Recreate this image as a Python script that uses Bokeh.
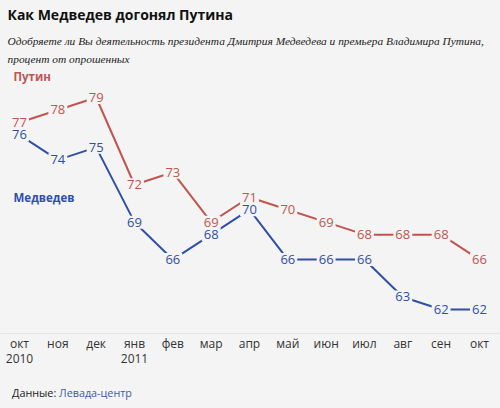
from bokeh.plotting import figure
from bokeh.layouts import column
from bokeh.models import ColumnDataSource, Range1d, FixedTicker, Label, Div, GlobalInlineStyleSheet
from bokeh.core.properties import value
from bokeh.embed import file_html
from bokeh.resources import INLINE

months = ["окт", "ноя", "дек", "янв", "фев", "мар", "апр", "май", "июн", "июл", "авг", "сен", "окт"]
years = {0: "2010", 3: "2011"}
putin = [77, 78, 79, 72, 73, 69, 71, 70, 69, 68, 68, 68, 66]
medvedev = [76, 74, 75, 69, 66, 68, 70, 66, 66, 66, 63, 62, 62]

BG = "#f4f4f4"
RED = "#c0554f"
BLUE = "#2f4fa8"

idx = list(range(len(months)))
src = ColumnDataSource(dict(
    x=idx,
    putin=putin,
    medvedev=medvedev,
    putin_txt=[str(v) for v in putin],
    medvedev_txt=[str(v) for v in medvedev],
))

W, H = 500, 380
fig = figure(width=W, height=H, output_backend="svg", toolbar_location=None,
             min_border_left=0, min_border_right=0, min_border_top=0, min_border_bottom=47,
             x_range=Range1d(-0.4957, 12.549), y_range=Range1d(60.07, 86.78),
             background_fill_color=BG, border_fill_color=BG, outline_line_color=None)
fig.stylesheets = [GlobalInlineStyleSheet(css="html,body{background:#f4f4f4;margin:0;padding:0;overflow:hidden;}")]
fig.grid.visible = False
fig.yaxis.visible = False

ax = fig.xaxis[0]
ax.ticker = FixedTicker(ticks=idx)
ax.major_label_overrides = {i: (m + "\n" + years[i]) if i in years else m for i, m in enumerate(months)}
ax.axis_line_color = "#e4e4e4"
ax.major_tick_line_color = None
ax.minor_tick_line_color = None
ax.major_label_standoff = -5
ax.major_label_text_font = "Open Sans"
ax.major_label_text_font_size = "12px"
ax.major_label_text_line_height = 0.9
ax.major_label_text_color = "#333333"

fig.line("x", "putin", source=src, line_color=RED, line_width=2)
fig.line("x", "medvedev", source=src, line_color=BLUE, line_width=2)

for col, color in (("putin_txt", RED), ("medvedev_txt", BLUE)):
    ycol = col.replace("_txt", "")
    fig.text("x", ycol, text=col, source=src, text_color=color,
             text_font=value("Open Sans"), text_font_size="13px",
             text_align="center", text_baseline="middle",
             background_fill_color=BG, padding=2)

def lab(x, y, text, size, color, font="Open Sans", style="normal"):
    fig.add_layout(Label(x=x, y=y, x_units="screen", y_units="screen", text=text,
                         text_font=font, text_font_size=size, text_color=color,
                         text_font_style=style, text_baseline="middle"))

lab(7, 319, "Как Медведев догонял Путина", "14px", "#111111", style="bold")
lab(7, 293, "Одобряете ли Вы деятельность президента Дмитрия Медведева и премьера Владимира Путина,",
    "11.4px", "#222222", font="Liberation Serif", style="italic")
lab(7, 275, "процент от опрошенных", "11.4px", "#222222", font="Liberation Serif", style="italic")
lab(13, 257, "Путин", "11.5px", RED, style="bold")
lab(13, 136, "Медведев", "11.5px", BLUE, style="bold")

source_div = Div(text='Данные: <span style="color:#3b5ba5">Левада-центр</span>',
                 width=W, height=28,
                 styles={"font-family": "Open Sans", "font-size": "10.8px", "color": "#222222",
                         "padding-left": "7px", "padding-top": "0px", "background": BG,
                         "box-sizing": "border-box"})

p = column(fig, source_div, spacing=0, styles={"background": BG})

open("out.html", "w").write(file_html(p, INLINE))
